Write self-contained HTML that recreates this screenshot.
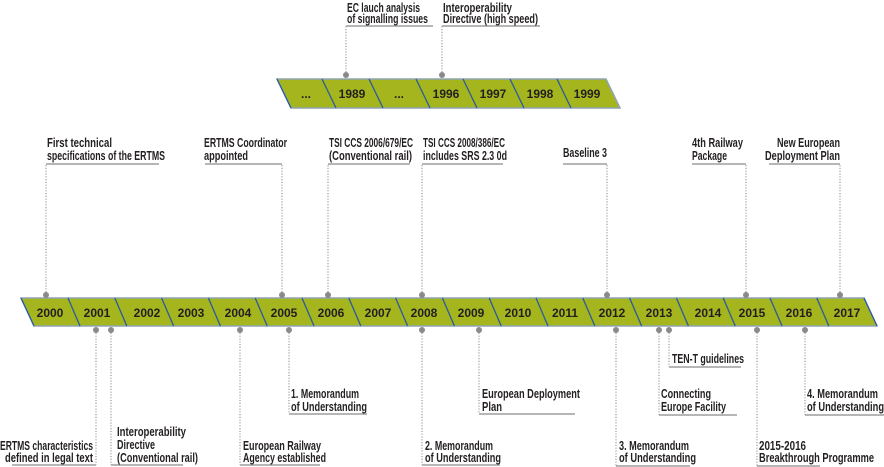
<!DOCTYPE html>
<html><head><meta charset="utf-8"><style>
html,body{margin:0;padding:0;background:#fff;}
svg{display:block;}
text{font-family:"Liberation Sans Narrow","Liberation Sans",sans-serif;font-size:12.5px;font-weight:bold;fill:#231f20;}
.y{font-size:12px;text-anchor:middle;}
.dot{fill:#8a8a8a;}
.dl{stroke:#8a8a8a;stroke-width:1;stroke-dasharray:1.2 1.6;fill:none;}
.ul{stroke:#8a8a8a;stroke-width:1.2;fill:none;}
</style></head><body>
<svg width="884" height="467" viewBox="0 0 884 467" xmlns="http://www.w3.org/2000/svg">
<!-- top bar -->
<polygon points="277,79 606,79 620,108 291,108" fill="#a4b51e" stroke="#8fa3b0" stroke-width="1.5"/>
<g stroke="#2a5aa0" stroke-width="1.3">
<line x1="277" y1="79" x2="291" y2="108"/>
<line x1="322" y1="79" x2="336" y2="108"/>
<line x1="369" y1="79" x2="383" y2="108"/>
<line x1="416" y1="79" x2="430" y2="108"/>
<line x1="463" y1="79" x2="477" y2="108"/>
<line x1="510" y1="79" x2="524" y2="108"/>
<line x1="557" y1="79" x2="571" y2="108"/>
</g>
<g class="y">
<text class="y" x="306" y="98">...</text>
<text class="y" x="352" y="98">1989</text>
<text class="y" x="399" y="98">...</text>
<text class="y" x="446" y="98">1996</text>
<text class="y" x="493" y="98">1997</text>
<text class="y" x="540" y="98">1998</text>
<text class="y" x="587" y="98">1999</text>
</g>
<!-- main bar -->
<polygon points="21,298 864,298 877,326 34,326" fill="#a4b51e" stroke="#8fa3b0" stroke-width="1.5"/>
<g stroke="#2a5aa0" stroke-width="1.3">
<line x1="21" y1="298" x2="34" y2="326"/>
<line x1="68" y1="298" x2="80" y2="326"/>
<line x1="114.8" y1="298" x2="126.8" y2="326"/>
<line x1="161.6" y1="298" x2="173.6" y2="326"/>
<line x1="208.4" y1="298" x2="220.4" y2="326"/>
<line x1="255.2" y1="298" x2="267.2" y2="326"/>
<line x1="302" y1="298" x2="314" y2="326"/>
<line x1="348.8" y1="298" x2="360.8" y2="326"/>
<line x1="395.6" y1="298" x2="407.6" y2="326"/>
<line x1="442.4" y1="298" x2="454.4" y2="326"/>
<line x1="489.2" y1="298" x2="501.2" y2="326"/>
<line x1="536" y1="298" x2="548" y2="326"/>
<line x1="582.8" y1="298" x2="594.8" y2="326"/>
<line x1="629.6" y1="298" x2="641.6" y2="326"/>
<line x1="676.4" y1="298" x2="688.4" y2="326"/>
<line x1="723.2" y1="298" x2="735.2" y2="326"/>
<line x1="770" y1="298" x2="782" y2="326"/>
<line x1="816.8" y1="298" x2="828.8" y2="326"/>
<line x1="864" y1="298" x2="877" y2="326"/>
</g>
<text class="y" x="50" y="317">2000</text>
<text class="y" x="97" y="317">2001</text>
<text class="y" x="147" y="317">2002</text>
<text class="y" x="191" y="317">2003</text>
<text class="y" x="238" y="317">2004</text>
<text class="y" x="284" y="317">2005</text>
<text class="y" x="331" y="317">2006</text>
<text class="y" x="378" y="317">2007</text>
<text class="y" x="424" y="317">2008</text>
<text class="y" x="471" y="317">2009</text>
<text class="y" x="518" y="317">2010</text>
<text class="y" x="565" y="317">2011</text>
<text class="y" x="612" y="317">2012</text>
<text class="y" x="659" y="317">2013</text>
<text class="y" x="708" y="317">2014</text>
<text class="y" x="752" y="317">2015</text>
<text class="y" x="799" y="317">2016</text>
<text class="y" x="847" y="317">2017</text>

<!-- top bar labels -->
<path class="dl" d="M346,75 V26"/><path class="ul" d="M346,26 H433"/><circle class="dot" cx="346" cy="75" r="3"/>
<text x="347" y="12" textLength="73" lengthAdjust="spacingAndGlyphs">EC lauch analysis</text>
<text x="347" y="23" textLength="81" lengthAdjust="spacingAndGlyphs">of signalling issues</text>
<path class="dl" d="M442,75 V26"/><path class="ul" d="M442,26 H540"/><circle class="dot" cx="442" cy="75" r="3"/>
<text x="443" y="12" textLength="69" lengthAdjust="spacingAndGlyphs">Interoperability</text>
<text x="443" y="23" textLength="95" lengthAdjust="spacingAndGlyphs">Directive (high speed)</text>

<!-- main top labels -->
<path class="dl" d="M46,295 V164"/><path class="ul" d="M46,164 H159"/><circle class="dot" cx="46" cy="295" r="3"/>
<text x="47" y="147" textLength="65" lengthAdjust="spacingAndGlyphs">First technical</text>
<text x="47" y="160" textLength="118" lengthAdjust="spacingAndGlyphs">specifications of the ERTMS</text>

<path class="dl" d="M282,295 V164"/><path class="ul" d="M205,164 H282"/><circle class="dot" cx="282" cy="295" r="3"/>
<text x="204" y="147" textLength="83" lengthAdjust="spacingAndGlyphs">ERTMS Coordinator</text>
<text x="204" y="160" textLength="44" lengthAdjust="spacingAndGlyphs">appointed</text>

<path class="dl" d="M328,295 V164"/><path class="ul" d="M328,164 H410"/><circle class="dot" cx="328" cy="295" r="3"/>
<text x="329" y="147" textLength="84" lengthAdjust="spacingAndGlyphs">TSI CCS 2006/679/EC</text>
<text x="329" y="160" textLength="83" lengthAdjust="spacingAndGlyphs">(Conventional rail)</text>

<path class="dl" d="M422,295 V164"/><path class="ul" d="M422,164 H503"/><circle class="dot" cx="422" cy="295" r="3"/>
<text x="423" y="147" textLength="82" lengthAdjust="spacingAndGlyphs">TSI CCS 2008/386/EC</text>
<text x="423" y="160" textLength="84" lengthAdjust="spacingAndGlyphs">includes SRS 2.3 0d</text>

<path class="dl" d="M607,295 V164"/><path class="ul" d="M563,164 H607"/><circle class="dot" cx="607" cy="295" r="3"/>
<text x="563" y="157" textLength="44" lengthAdjust="spacingAndGlyphs">Baseline 3</text>

<path class="dl" d="M746,295 V164"/><path class="ul" d="M692,164 H746"/><circle class="dot" cx="746" cy="295" r="3"/>
<text x="692" y="147" textLength="51" lengthAdjust="spacingAndGlyphs">4th Railway</text>
<text x="692" y="160" textLength="35" lengthAdjust="spacingAndGlyphs">Package</text>

<path class="dl" d="M840,295 V164"/><path class="ul" d="M769,164 H840"/><circle class="dot" cx="840" cy="295" r="3"/>
<text x="777" y="147" textLength="63" lengthAdjust="spacingAndGlyphs">New European</text>
<text x="765" y="160" textLength="75" lengthAdjust="spacingAndGlyphs">Deployment Plan</text>

<!-- main bottom labels -->
<path class="dl" d="M96,330 V465"/><path class="ul" d="M12,465 H96"/><circle class="dot" cx="96" cy="330" r="3"/>
<text x="0" y="450" textLength="93" lengthAdjust="spacingAndGlyphs">ERTMS characteristics</text>
<text x="5" y="462" textLength="88" lengthAdjust="spacingAndGlyphs">defined in legal text</text>

<path class="dl" d="M111,330 V465"/><path class="ul" d="M111,465 H183"/><circle class="dot" cx="111" cy="330" r="3"/>
<text x="117" y="436" textLength="69" lengthAdjust="spacingAndGlyphs">Interoperability</text>
<text x="117" y="449" textLength="38" lengthAdjust="spacingAndGlyphs">Directive</text>
<text x="117" y="462" textLength="81" lengthAdjust="spacingAndGlyphs">(Conventional rail)</text>

<path class="dl" d="M240,330 V465"/><path class="ul" d="M240,465 H320"/><circle class="dot" cx="240" cy="330" r="3"/>
<text x="243" y="450" textLength="78" lengthAdjust="spacingAndGlyphs">European Railway</text>
<text x="243" y="462" textLength="83" lengthAdjust="spacingAndGlyphs">Agency established</text>

<path class="dl" d="M289,330 V414"/><path class="ul" d="M289,414 H367"/><circle class="dot" cx="289" cy="330" r="3"/>
<text x="291" y="398" textLength="68" lengthAdjust="spacingAndGlyphs">1. Memorandum</text>
<text x="291" y="411" textLength="76" lengthAdjust="spacingAndGlyphs">of Understanding</text>

<path class="dl" d="M422,330 V465"/><path class="ul" d="M422,465 H500"/><circle class="dot" cx="422" cy="330" r="3"/>
<text x="425" y="450" textLength="68" lengthAdjust="spacingAndGlyphs">2. Memorandum</text>
<text x="425" y="462" textLength="76" lengthAdjust="spacingAndGlyphs">of Understanding</text>

<path class="dl" d="M479,330 V414"/><path class="ul" d="M479,414 H575"/><circle class="dot" cx="479" cy="330" r="3"/>
<text x="482" y="398" textLength="98" lengthAdjust="spacingAndGlyphs">European Deployment</text>
<text x="482" y="411" textLength="20" lengthAdjust="spacingAndGlyphs">Plan</text>

<path class="dl" d="M616,330 V466"/><path class="ul" d="M616,466 H690"/><circle class="dot" cx="616" cy="330" r="3"/>
<text x="619" y="450" textLength="70" lengthAdjust="spacingAndGlyphs">3. Memorandum</text>
<text x="619" y="462" textLength="77" lengthAdjust="spacingAndGlyphs">of Understanding</text>

<path class="dl" d="M659,330 V415"/><path class="ul" d="M659,415 H737"/><circle class="dot" cx="659" cy="330" r="3"/>
<text x="661" y="398" textLength="50" lengthAdjust="spacingAndGlyphs">Connecting</text>
<text x="661" y="411" textLength="65" lengthAdjust="spacingAndGlyphs">Europe Facility</text>

<path class="dl" d="M669,330 V367"/><path class="ul" d="M669,367 H741"/><circle class="dot" cx="669" cy="330" r="3"/>
<text x="672" y="363" textLength="72" lengthAdjust="spacingAndGlyphs">TEN-T guidelines</text>

<path class="dl" d="M757,330 V466"/><path class="ul" d="M757,466 H820"/><circle class="dot" cx="757" cy="330" r="3"/>
<text x="759" y="450" textLength="47" lengthAdjust="spacingAndGlyphs">2015-2016</text>
<text x="759" y="462" textLength="115" lengthAdjust="spacingAndGlyphs">Breakthrough Programme</text>

<path class="dl" d="M805,330 V415"/><path class="ul" d="M805,415 H884"/><circle class="dot" cx="805" cy="330" r="3"/>
<text x="807" y="398" textLength="71" lengthAdjust="spacingAndGlyphs">4. Memorandum</text>
<text x="807" y="411" textLength="77" lengthAdjust="spacingAndGlyphs">of Understanding</text>
</svg>
</body></html>
